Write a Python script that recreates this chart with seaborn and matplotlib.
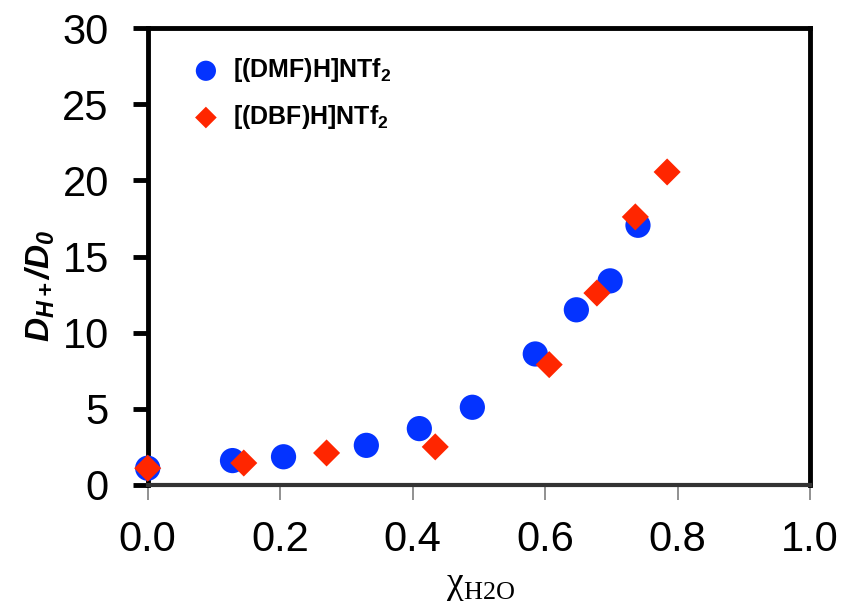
import matplotlib
matplotlib.use("Agg")
import matplotlib.pyplot as plt
import seaborn as sns
import pandas as pd

# Data
dmf_x = [0.0, 0.128, 0.205, 0.33, 0.41, 0.49, 0.585, 0.647, 0.698, 0.74]
dmf_y = [1.1, 1.6, 1.85, 2.6, 3.7, 5.1, 8.6, 11.5, 13.4, 17.05]
dbf_x = [0.0, 0.145, 0.27, 0.434, 0.606, 0.678, 0.736, 0.784]
dbf_y = [1.1, 1.44, 2.1, 2.5, 7.9, 12.6, 17.6, 20.55]
labels = ["[(DMF)H]NTf$_\\mathbf{2}$", "[(DBF)H]NTf$_\\mathbf{2}$"]
x_ticks = [0.0, 0.2, 0.4, 0.6, 0.8, 1.0]
y_ticks = [0, 5, 10, 15, 20, 25, 30]

sns.set_theme(style="white")
plt.rcParams['font.family'] = ['Liberation Sans', 'DejaVu Sans']
plt.rcParams['text.color'] = 'black'
plt.rcParams['axes.labelcolor'] = 'black'
plt.rcParams['mathtext.fontset'] = 'custom'
plt.rcParams['mathtext.rm'] = 'Liberation Sans:italic:bold'
plt.rcParams['mathtext.it'] = 'Liberation Sans:italic:bold'
plt.rcParams['mathtext.sf'] = 'Liberation Serif'
plt.rcParams['mathtext.bf'] = 'Liberation Sans:bold'

fig = plt.figure(figsize=(8.44, 6.10), dpi=100)
ax = fig.add_axes([0.175, 0.205, 0.785, 0.749])

df1 = pd.DataFrame({"x": dmf_x, "y": dmf_y})
df2 = pd.DataFrame({"x": dbf_x, "y": dbf_y})
sns.scatterplot(data=df1, x="x", y="y", ax=ax, marker="o", s=330,
                color="#0433FF", edgecolor="none", label=labels[0], zorder=3,
                clip_on=False)
sns.scatterplot(data=df2, x="x", y="y", ax=ax, marker="D", s=190,
                color="#FF2600", edgecolor="none", label=labels[1], zorder=4,
                clip_on=False)

ax.set_xlim(0, 1.0)
ax.set_ylim(0, 30)
ax.set_xticks(x_ticks)
ax.set_xticklabels([f"{v:.1f}" for v in x_ticks])
ax.set_yticks(y_ticks)
ax.set_yticklabels([str(v) for v in y_ticks])

for side in ["left", "top", "right"]:
    ax.spines[side].set_color("black")
    ax.spines[side].set_linewidth(3.5)
ax.spines["bottom"].set_color("#333333")
ax.spines["bottom"].set_linewidth(3.0)

ax.tick_params(axis="y", direction="out", length=11, width=3.5, color="black",
               labelcolor="black", labelsize=30, pad=17, left=True)
ax.tick_params(axis="x", direction="out", length=11, width=1.3, color="#888888",
               labelcolor="black", labelsize=30, pad=14, bottom=True)

ax.set_ylabel("$\\mathit{D_{H+}/D_0}$", fontsize=24)
ax.yaxis.set_label_coords(-0.137, 0.435)
ax.set_xlabel("χ$_{\\mathsf{H2O}}$", fontsize=27,
              family=['Liberation Serif', 'DejaVu Serif'])
ax.xaxis.set_label_coords(0.503, -0.183)

leg = ax.legend(loc="upper left", frameon=False,
                prop={'weight': 'bold', 'size': 18},
                bbox_to_anchor=(0.035, 0.96), handletextpad=0.1,
                labelspacing=0.75, markerscale=0.8, borderaxespad=0)

fig.savefig("out.png", dpi=100)
